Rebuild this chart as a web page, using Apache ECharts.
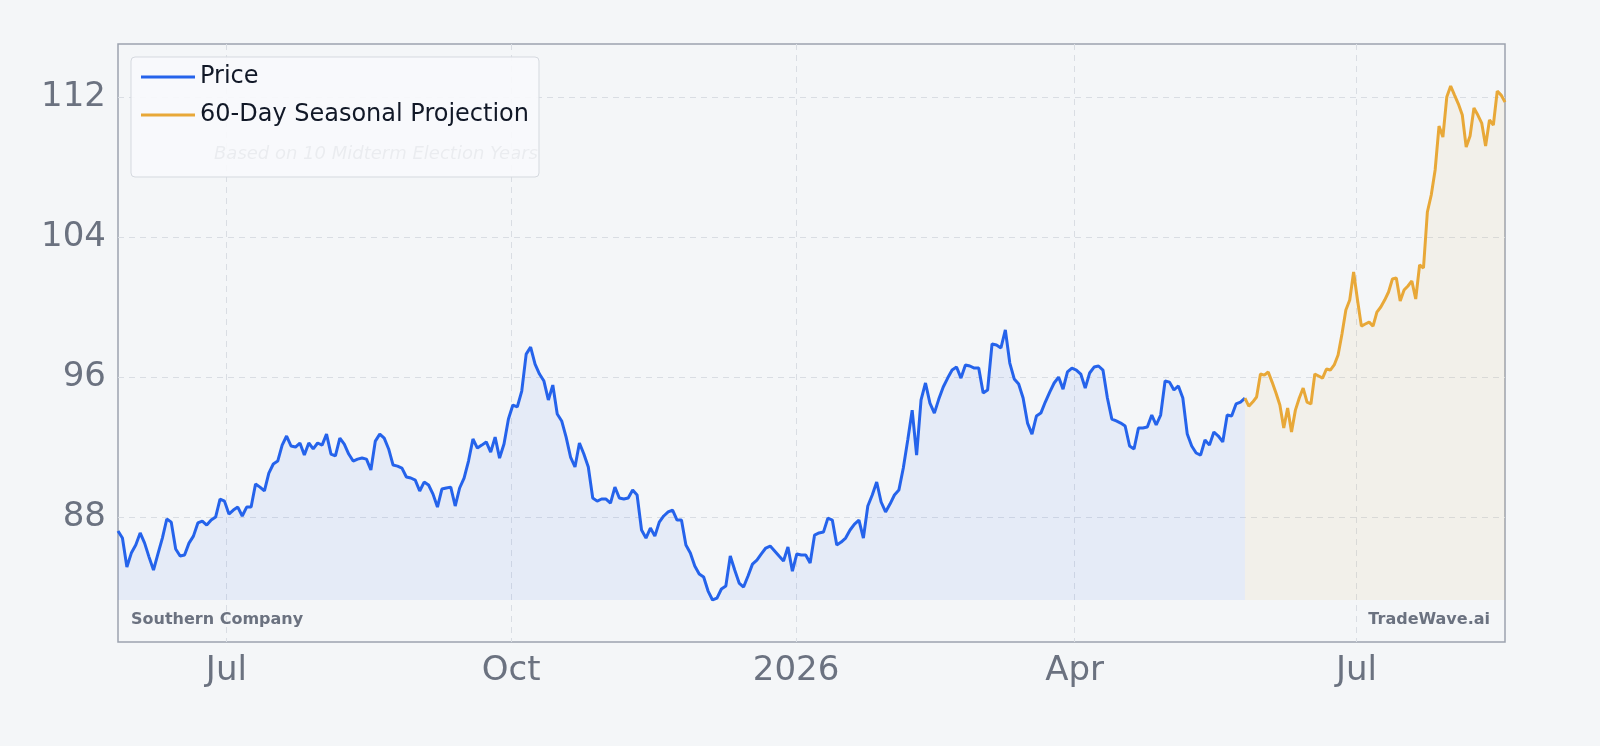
<!DOCTYPE html>
<html><head><meta charset="utf-8">
<script src="https://cdn.jsdelivr.net/npm/echarts@6/dist/echarts.min.js"></script>
<style>html,body{margin:0;padding:0;background:#f4f6f8}#c{width:1600px;height:746px}</style>
</head><body><div id="c"></div>
<script>
const priceStart = '2025-05-27';
const priceEnd = '2026-05-26';
const projEnd = '2026-08-18';
const priceValues = [87.2,86.8,85.14,85.94,86.4,87.09,86.51,85.71,84.97,85.89,86.8,87.89,87.71,86.17,85.77,85.83,86.51,86.91,87.66,87.77,87.54,87.83,88,89.03,88.91,88.17,88.4,88.57,88.06,88.57,88.57,89.89,89.71,89.49,90.51,91.03,91.2,92.11,92.63,92.06,92,92.23,91.54,92.23,91.89,92.23,92.11,92.74,91.6,91.49,92.51,92.17,91.6,91.2,91.31,91.37,91.31,90.69,92.34,92.74,92.51,91.89,90.97,90.91,90.8,90.29,90.23,90.11,89.49,90,89.83,89.31,88.57,89.6,89.66,89.71,88.63,89.66,90.23,91.2,92.46,91.94,92.11,92.29,91.71,92.57,91.37,92.17,93.6,94.4,94.29,95.2,97.31,97.71,96.74,96.17,95.77,94.69,95.54,93.89,93.49,92.57,91.43,90.86,92.23,91.6,90.86,89.09,88.91,89.03,89.03,88.8,89.71,89.09,89.03,89.09,89.54,89.26,87.26,86.8,87.37,86.91,87.71,88.06,88.29,88.4,87.83,87.83,86.4,85.94,85.2,84.74,84.57,83.77,83.26,83.37,83.89,84.06,85.77,84.97,84.23,84,84.63,85.31,85.54,85.89,86.23,86.34,86.06,85.77,85.49,86.29,84.91,85.89,85.83,85.83,85.37,86.97,87.09,87.14,87.94,87.83,86.4,86.57,86.8,87.26,87.6,87.83,86.8,88.63,89.26,90,88.86,88.29,88.74,89.26,89.54,90.8,92.4,94.11,91.54,94.69,95.66,94.51,93.94,94.74,95.43,95.94,96.4,96.57,95.94,96.69,96.63,96.51,96.51,95.09,95.26,97.89,97.83,97.66,98.69,96.8,95.89,95.6,94.8,93.37,92.74,93.77,93.94,94.57,95.14,95.66,96,95.31,96.29,96.51,96.4,96.17,95.37,96.23,96.57,96.63,96.4,94.8,93.6,93.49,93.37,93.2,92.06,91.89,93.09,93.09,93.14,93.83,93.26,93.83,95.77,95.71,95.26,95.49,94.8,92.74,92.06,91.66,91.54,92.4,92.11,92.86,92.63,92.29,93.83,93.77,94.46,94.57,94.8];
const projValues = [94.8,94.34,94.57,94.86,96.17,96.11,96.29,95.71,95.09,94.4,93.09,94.23,92.86,94.11,94.8,95.37,94.57,94.46,96.17,96.06,95.94,96.46,96.4,96.69,97.26,98.46,99.83,100.4,102,100.4,98.91,99.03,99.14,98.91,99.71,100,100.4,100.86,101.6,101.66,100.34,100.97,101.2,101.49,100.46,102.4,102.23,105.43,106.4,107.83,110.34,109.71,112,112.63,112.11,111.6,110.97,109.14,109.77,111.37,110.97,110.51,109.2,110.69,110.4,112.34,112.11,111.71];
const yTicks = [88,96,104,112];
const xTicks = ['2025-07-01','2025-10-01','2026-01-01','2026-04-01','2026-07-01'];
const xTickLabels = ['Jul','Oct','2026','Apr','Jul'];
const axisMin = '2025-05-27', axisMax = '2026-08-18';

const ts = d => +new Date(d+'T00:00:00Z');
function spread(vals, s, e){
  const a=ts(s), b=ts(e), n=vals.length-1;
  return vals.map((v,i)=>[a+(b-a)*i/n, v]);
}
const priceData = spread(priceValues, priceStart, priceEnd);
const projData = spread(projValues, priceEnd, projEnd);
const baseVal = Math.min(...priceValues);
const xTickTs = xTicks.map(ts);
const labelMap = {}; xTickTs.forEach((t,i)=>labelMap[t]=xTickLabels[i]);

const chart = echarts.init(document.getElementById('c'));
chart.setOption({
  backgroundColor:'#f4f6f8',
  animation:false,
  grid:{left:118,right:95,top:44,bottom:104,show:true,borderColor:'#9ca3af',borderWidth:1.5,backgroundColor:'#f4f6f8'},
  xAxis:{type:'value',min:ts(axisMin),max:ts(axisMax),
    axisLine:{show:false},axisTick:{show:false,customValues:xTickTs},
    axisLabel:{customValues:xTickTs,formatter:v=>labelMap[v]||'',fontSize:34,color:'#6b7280',margin:12,fontFamily:'DejaVu Sans'},
    splitLine:{show:true,lineStyle:{type:[6,5],color:'#d9dde3',width:1}}},
  yAxis:{type:'value',min:80.86,max:115.03,
    axisLine:{show:false},axisTick:{show:false,customValues:yTicks},
    axisLabel:{customValues:yTicks,fontSize:34,color:'#6b7280',margin:12,fontFamily:'DejaVu Sans'},
    splitLine:{show:true,lineStyle:{type:[6,5],color:'#d9dde3',width:1}}},
  legend:{left:131,top:57,orient:'vertical',itemWidth:54,itemHeight:3,itemGap:14,
    padding:[8,10,50,10],backgroundColor:'rgba(248,250,252,0.9)',borderColor:'#d5d9df',borderWidth:1,borderRadius:4,
    textStyle:{fontSize:24,color:'#111827',fontFamily:'DejaVu Sans'},
    icon:'rect',data:['Price','60-Day Seasonal Projection']},
  graphic:[
    {type:'text',left:214,top:145,style:{text:'Based on 10 Midterm Election Years',font:'italic 18px DejaVu Sans',fill:'#6b7280'}},
    {type:'text',left:131,top:612,style:{text:'Southern Company',font:'bold 16px DejaVu Sans',fill:'#6b7280'}},
    {type:'text',right:110,top:612,style:{text:'TradeWave.ai',font:'bold 16px DejaVu Sans',fill:'#6b7280'}}
  ],
  series:[
    {name:'Price',type:'line',data:priceData,showSymbol:false,lineStyle:{color:'#2563eb',width:3},itemStyle:{color:'#2563eb'},
      areaStyle:{color:'rgba(37,99,235,0.1)',origin:baseVal}},
    {name:'60-Day Seasonal Projection',type:'line',data:projData,showSymbol:false,lineStyle:{color:'#e8a838',width:3},itemStyle:{color:'#e8a838'},
      areaStyle:{color:'rgba(232,168,56,0.1)',origin:baseVal}}
  ]
});
</script></body></html>
